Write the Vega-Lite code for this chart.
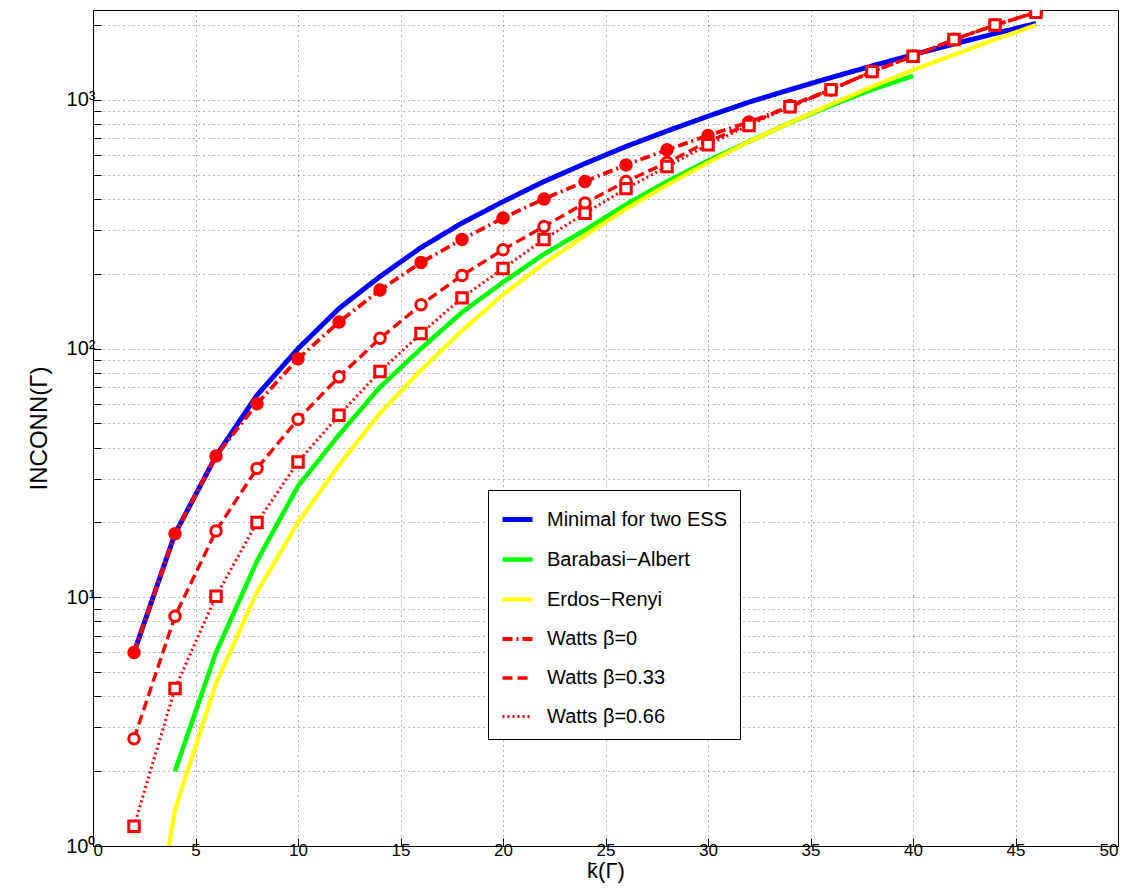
{
  "$schema": "https://vega.github.io/schema/vega-lite/v6.json",
  "width": 1025,
  "height": 836,
  "autosize": {"type": "none"},
  "padding": {"left": 93, "top": 10, "right": 12, "bottom": 43},
  "background": "white",
  "config": {
    "font": "Liberation Sans",
    "view": {"stroke": "black", "strokeWidth": 1},
    "axis": {"labelFont": "Liberation Sans", "titleFont": "Liberation Sans", "labelFontSize": 17, "titleFontSize": 24, "titleFontWeight": "normal", "labelColor": "black", "titleColor": "black", "grid": true, "gridColor": "black", "gridDash": [1, 4], "gridOpacity": 0.6, "domainColor": "black", "tickColor": "black", "tickSize": -8}
  },
  "data": {"values": [
    {"s":"Minimal for two ESS","x":2,"y":6},{"s":"Minimal for two ESS","x":4,"y":18},{"s":"Minimal for two ESS","x":6,"y":37},{"s":"Minimal for two ESS","x":8,"y":65},{"s":"Minimal for two ESS","x":10,"y":100},{"s":"Minimal for two ESS","x":12,"y":145},{"s":"Minimal for two ESS","x":14,"y":195},{"s":"Minimal for two ESS","x":16,"y":255},{"s":"Minimal for two ESS","x":18,"y":320},{"s":"Minimal for two ESS","x":20,"y":390},{"s":"Minimal for two ESS","x":22,"y":470},{"s":"Minimal for two ESS","x":24,"y":555},{"s":"Minimal for two ESS","x":26,"y":650},{"s":"Minimal for two ESS","x":28,"y":750},{"s":"Minimal for two ESS","x":30,"y":860},{"s":"Minimal for two ESS","x":32,"y":980},{"s":"Minimal for two ESS","x":34,"y":1100},{"s":"Minimal for two ESS","x":36,"y":1230},{"s":"Minimal for two ESS","x":38,"y":1370},{"s":"Minimal for two ESS","x":40,"y":1520},{"s":"Minimal for two ESS","x":42,"y":1680},{"s":"Minimal for two ESS","x":44,"y":1850},{"s":"Minimal for two ESS","x":46,"y":2030},
    {"s":"Barabasi−Albert","x":4,"y":2},{"s":"Barabasi−Albert","x":6,"y":6},{"s":"Barabasi−Albert","x":8,"y":14},{"s":"Barabasi−Albert","x":10,"y":28},{"s":"Barabasi−Albert","x":12,"y":45},{"s":"Barabasi−Albert","x":14,"y":70},{"s":"Barabasi−Albert","x":16,"y":100},{"s":"Barabasi−Albert","x":18,"y":140},{"s":"Barabasi−Albert","x":20,"y":185},{"s":"Barabasi−Albert","x":22,"y":240},{"s":"Barabasi−Albert","x":24,"y":300},{"s":"Barabasi−Albert","x":26,"y":380},{"s":"Barabasi−Albert","x":28,"y":470},{"s":"Barabasi−Albert","x":30,"y":570},{"s":"Barabasi−Albert","x":32,"y":680},{"s":"Barabasi−Albert","x":34,"y":810},{"s":"Barabasi−Albert","x":36,"y":950},{"s":"Barabasi−Albert","x":38,"y":1100},{"s":"Barabasi−Albert","x":40,"y":1250},
    {"s":"Erdos−Renyi","x":3.7,"y":1},{"s":"Erdos−Renyi","x":4,"y":1.4},{"s":"Erdos−Renyi","x":6,"y":4.5},{"s":"Erdos−Renyi","x":8,"y":10.5},{"s":"Erdos−Renyi","x":10,"y":20},{"s":"Erdos−Renyi","x":12,"y":34},{"s":"Erdos−Renyi","x":14,"y":55},{"s":"Erdos−Renyi","x":16,"y":82},{"s":"Erdos−Renyi","x":18,"y":118},{"s":"Erdos−Renyi","x":20,"y":165},{"s":"Erdos−Renyi","x":22,"y":220},{"s":"Erdos−Renyi","x":24,"y":285},{"s":"Erdos−Renyi","x":26,"y":365},{"s":"Erdos−Renyi","x":28,"y":455},{"s":"Erdos−Renyi","x":30,"y":560},{"s":"Erdos−Renyi","x":32,"y":680},{"s":"Erdos−Renyi","x":34,"y":810},{"s":"Erdos−Renyi","x":36,"y":960},{"s":"Erdos−Renyi","x":38,"y":1130},{"s":"Erdos−Renyi","x":40,"y":1320},{"s":"Erdos−Renyi","x":42,"y":1520},{"s":"Erdos−Renyi","x":44,"y":1750},{"s":"Erdos−Renyi","x":46,"y":2000},
    {"s":"Watts β=0","x":2,"y":6},{"s":"Watts β=0","x":4,"y":18},{"s":"Watts β=0","x":6,"y":37},{"s":"Watts β=0","x":8,"y":60},{"s":"Watts β=0","x":10,"y":91},{"s":"Watts β=0","x":12,"y":128},{"s":"Watts β=0","x":14,"y":172},{"s":"Watts β=0","x":16,"y":222},{"s":"Watts β=0","x":18,"y":275},{"s":"Watts β=0","x":20,"y":335},{"s":"Watts β=0","x":22,"y":400},{"s":"Watts β=0","x":24,"y":470},{"s":"Watts β=0","x":26,"y":548},{"s":"Watts β=0","x":28,"y":630},{"s":"Watts β=0","x":30,"y":720},{"s":"Watts β=0","x":32,"y":815},{"s":"Watts β=0","x":34,"y":940},{"s":"Watts β=0","x":36,"y":1100},{"s":"Watts β=0","x":38,"y":1300},{"s":"Watts β=0","x":40,"y":1500},{"s":"Watts β=0","x":42,"y":1750},{"s":"Watts β=0","x":44,"y":2000},{"s":"Watts β=0","x":46,"y":2250},
    {"s":"Watts β=0.33","x":2,"y":2.7},{"s":"Watts β=0.33","x":4,"y":8.4},{"s":"Watts β=0.33","x":6,"y":18.5},{"s":"Watts β=0.33","x":8,"y":33},{"s":"Watts β=0.33","x":10,"y":52},{"s":"Watts β=0.33","x":12,"y":77},{"s":"Watts β=0.33","x":14,"y":110},{"s":"Watts β=0.33","x":16,"y":150},{"s":"Watts β=0.33","x":18,"y":197},{"s":"Watts β=0.33","x":20,"y":250},{"s":"Watts β=0.33","x":22,"y":310},{"s":"Watts β=0.33","x":24,"y":385},{"s":"Watts β=0.33","x":26,"y":470},{"s":"Watts β=0.33","x":28,"y":560},{"s":"Watts β=0.33","x":30,"y":680},{"s":"Watts β=0.33","x":32,"y":800},{"s":"Watts β=0.33","x":34,"y":950},{"s":"Watts β=0.33","x":36,"y":1100},{"s":"Watts β=0.33","x":38,"y":1300},{"s":"Watts β=0.33","x":40,"y":1500},{"s":"Watts β=0.33","x":42,"y":1750},{"s":"Watts β=0.33","x":44,"y":2000},{"s":"Watts β=0.33","x":46,"y":2250},
    {"s":"Watts β=0.66","x":2,"y":1.2},{"s":"Watts β=0.66","x":4,"y":4.3},{"s":"Watts β=0.66","x":6,"y":10.1},{"s":"Watts β=0.66","x":8,"y":20},{"s":"Watts β=0.66","x":10,"y":35},{"s":"Watts β=0.66","x":12,"y":54},{"s":"Watts β=0.66","x":14,"y":81},{"s":"Watts β=0.66","x":16,"y":115},{"s":"Watts β=0.66","x":18,"y":160},{"s":"Watts β=0.66","x":20,"y":210},{"s":"Watts β=0.66","x":22,"y":275},{"s":"Watts β=0.66","x":24,"y":350},{"s":"Watts β=0.66","x":26,"y":440},{"s":"Watts β=0.66","x":28,"y":540},{"s":"Watts β=0.66","x":30,"y":660},{"s":"Watts β=0.66","x":32,"y":790},{"s":"Watts β=0.66","x":34,"y":940},{"s":"Watts β=0.66","x":36,"y":1100},{"s":"Watts β=0.66","x":38,"y":1300},{"s":"Watts β=0.66","x":40,"y":1500},{"s":"Watts β=0.66","x":42,"y":1750},{"s":"Watts β=0.66","x":44,"y":2000},{"s":"Watts β=0.66","x":46,"y":2250}
  ]},
  "encoding": {
    "x": {"field": "x", "type": "quantitative", "scale": {"domain": [0, 50], "nice": false}, "axis": {"values": [0,5,10,15,20,25,30,35,40,45,50], "title": "k̄(Γ)", "titlePadding": 2, "titleFontSize": 22, "labelPadding": 4}},
    "y": {"field": "y", "type": "quantitative", "scale": {"type": "log", "domain": [1, 2300], "nice": false}, "axis": {"values": [1,2,3,4,5,6,7,8,9,10,20,30,40,50,60,70,80,90,100,200,300,400,500,600,700,800,900,1000,2000], "labelExpr": "datum.value==1?'10⁰':datum.value==10?'10¹':datum.value==100?'10²':datum.value==1000?'10³':''", "title": "INCONN(Γ)", "titlePadding": 14, "labelPadding": 6, "labelFontSize": 20}}
  },
  "layer": [
    {
      "mark": {"type": "line", "clip": true},
      "encoding": {
        "detail": {"field": "s"},
        "color": {"field": "s", "type": "nominal", "title": null,
          "scale": {"domain": ["Minimal for two ESS","Barabasi−Albert","Erdos−Renyi","Watts β=0","Watts β=0.33","Watts β=0.66"], "range": ["#0000ff","#00ff00","#ffff00","#ff0000","#ff0000","#ff0000"]},
          "legend": {"orient": "none", "legendX": 395, "legendY": 480, "symbolType": "stroke", "symbolSize": 900, "labelFontSize": 20, "labelFont": "Liberation Sans", "labelColor": "black", "labelLimit": 400, "rowPadding": 12, "padding": 12, "strokeColor": "black", "fillColor": "white", "labelOffset": 12}},
        "strokeDash": {"field": "s", "type": "nominal", "title": null,
          "scale": {"domain": ["Minimal for two ESS","Barabasi−Albert","Erdos−Renyi","Watts β=0","Watts β=0.33","Watts β=0.66"], "range": [[1,0],[1,0],[1,0],[10,4,2,4],[10,5],[2,3]]}},
        "strokeWidth": {"field": "s", "type": "nominal", "title": null,
          "scale": {"domain": ["Minimal for two ESS","Barabasi−Albert","Erdos−Renyi","Watts β=0","Watts β=0.33","Watts β=0.66"], "range": [5,3,3,3,3,1.5]}}
      }
    },
    {
      "transform": [{"filter": "indexof(datum.s, 'Watts') == 0"}],
      "mark": {"type": "point", "color": "#ff0000", "strokeWidth": 3, "size": 110, "opacity": 1, "clip": true},
      "encoding": {
        "shape": {"field": "s", "type": "nominal", "legend": null, "scale": {"domain": ["Watts β=0","Watts β=0.33","Watts β=0.66"], "range": ["circle","circle","square"]}},
        "fill": {"field": "s", "type": "nominal", "legend": null, "scale": {"domain": ["Watts β=0","Watts β=0.33","Watts β=0.66"], "range": ["#ff0000","white","white"]}},
        "fillOpacity": {"value": 1}
      }
    }
  ]
}
